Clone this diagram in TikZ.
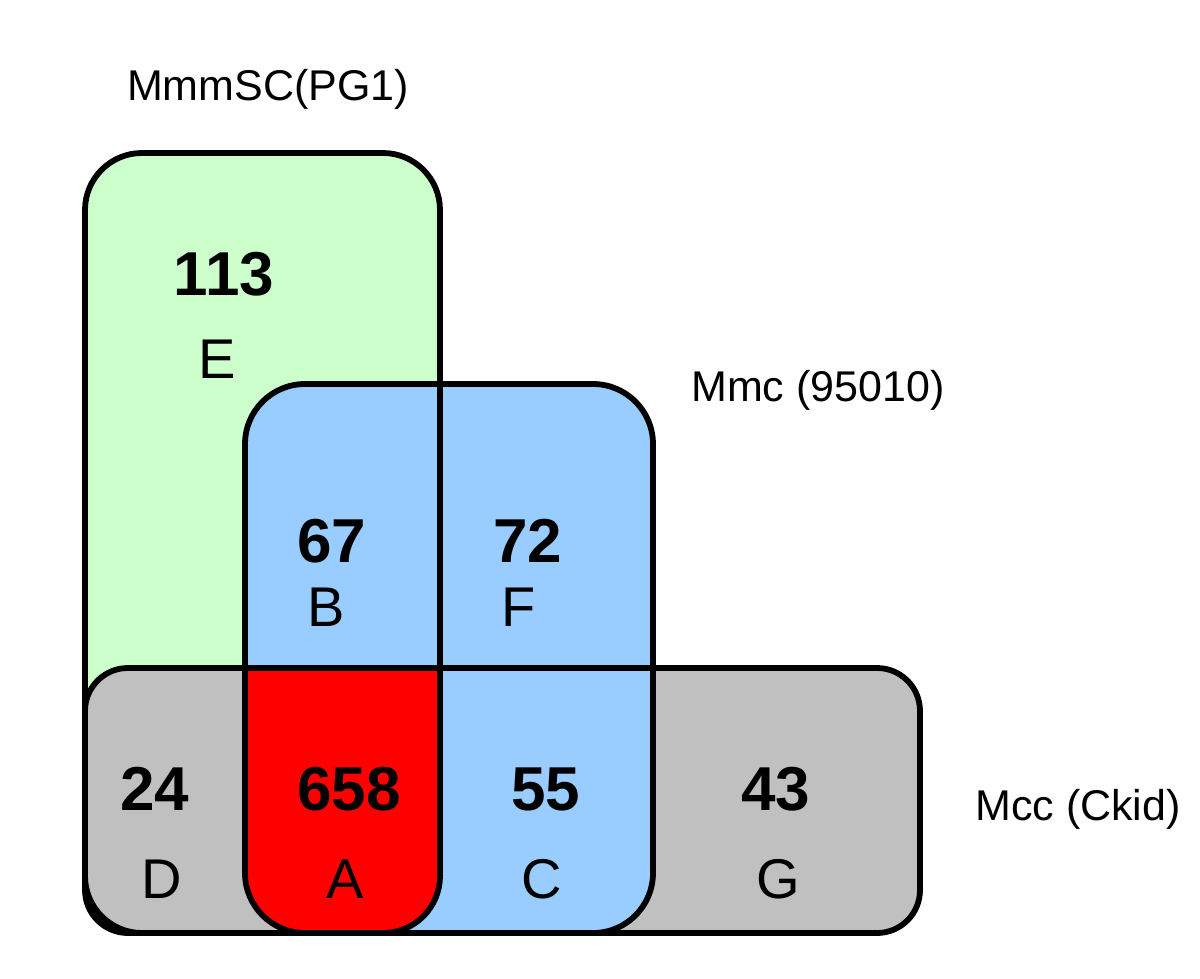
\documentclass[tikz,border=0pt]{standalone}
\usepackage{fontspec}
\setmainfont{Liberation Sans}
\definecolor{setgreen}{HTML}{CCFFCC}
\definecolor{setblue}{HTML}{99CCFF}
\definecolor{setgray}{HTML}{C0C0C0}
\definecolor{setred}{HTML}{FF0000}
\begin{document}
\begin{tikzpicture}[x=1pt,y=-1pt,
  outline/.style={draw=black, line width=5.8pt},
  greenr/.style={rounded corners=57pt},
  bluer/.style={rounded corners=60pt},
  grayr/.style={rounded corners=43pt},
  num/.style={font=\fontsize{62}{70}\selectfont\bfseries, anchor=base, inner sep=0pt},
  lett/.style={font=\fontsize{56}{64}\selectfont, anchor=base, inner sep=0pt},
  lab/.style={font=\fontsize{43}{50}\selectfont, anchor=base, inner sep=0pt}]
\useasboundingbox (0,0) rectangle (1200,978);
% fills
\fill[setgreen, greenr] (85,153) rectangle (440,933);
\fill[setgray, grayr] (85,668) rectangle (920,933);
\fill[setblue, bluer] (245,384) rectangle (653,933);
\begin{scope}
  \clip[bluer] (245,384) rectangle (653,933);
  \clip[greenr] (85,153) rectangle (440,933);
  \fill[setred] (0,668) rectangle (1200,978);
\end{scope}
% outlines
\draw[outline, greenr] (85,153) rectangle (440,933);
\draw[outline, grayr] (85,668) rectangle (920,933);
\draw[outline, bluer] (245,384) rectangle (653,933);
% set labels
\node[lab] (lpg) at (268,100) {MmmSC(PG1)};
\node[lab] (lmmc) at (818,401) {Mmc (95010)};
\node[lab] (lmcc) at (1078,820) {Mcc (Ckid)};
% counts
\node[num] (nE) at (224,295) {113};
\node[lett] (tE) at (217,378) {E};
\node[num] (nB) at (332,562) {67};
\node[lett] (tB) at (326,626) {B};
\node[num] (nF) at (528,562) {72};
\node[lett] (tF) at (519,626) {F};
\node[num] (nD) at (155,810) {24};
\node[lett] (tD) at (162,898) {D};
\node[num] (nA) at (349,810) {658};
\node[lett] (tA) at (345,898) {A};
\node[num] (nC) at (546,810) {55};
\node[lett] (tC) at (542,898) {C};
\node[num] (nG) at (776,810) {43};
\node[lett] (tG) at (778,898) {G};
\end{tikzpicture}
\end{document}
